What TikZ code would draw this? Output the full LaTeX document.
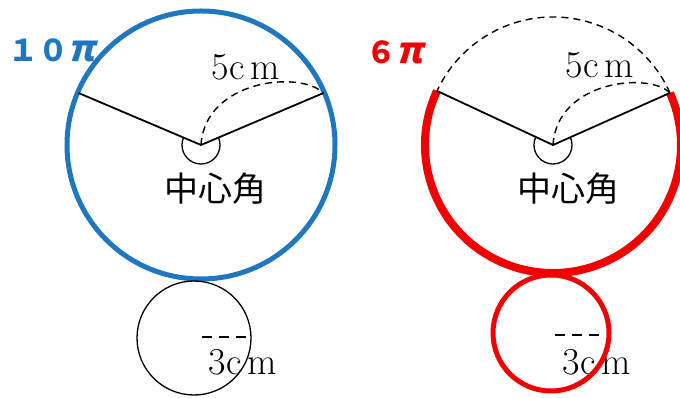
\documentclass[tikz,border=0pt]{standalone}
\usepackage{fontspec}
\newfontfamily\cjk{Noto Sans CJK JP}
\newfontfamily\cjksl[FakeSlant=0.22]{Noto Sans CJK JP}
\definecolor{arcblue}{RGB}{31,119,192}
\definecolor{arcred}{RGB}{240,0,0}

\begin{document}
\begin{tikzpicture}[x=1pt,y=1pt,line width=1.8pt,
  dsh/.style={dashed,dash pattern=on 7pt off 5pt,line width=1.4pt},
  lbl/.style={font=\fontsize{38}{44}\selectfont,inner sep=0pt},
  tag/.style={font=\cjk\bfseries\fontsize{30}{34}\selectfont,inner sep=0pt,anchor=west}]
\useasboundingbox (0,0) rectangle (680,398);
\clip (0,0) rectangle (680,398);
% 左图：圆心与半径端点
\coordinate (O1) at (201,253);
\coordinate (A1) at ([shift={(157:133)}]O1);
\coordinate (B1) at ([shift={(23:133)}]O1);
% 蓝色圆（周长 10π）
\draw[arcblue,line width=5pt] (O1) circle[radius=134];
% 两条半径
\draw (A1) -- (O1) -- (B1);
% 半径的虚线弧
\draw[dsh] (O1) .. controls (205,318) and (300,328) .. (B1);
% 中心角记号
\draw[line width=1.3pt] ([shift={(157:19)}]O1) arc[start angle=157,end angle=383,radius=19];
% 标注
\node[tag,text=arcblue] (t1) at (8,348) {１０\cjksl\bfseries\fontsize{36}{40}\selectfont π};
\node[lbl] (r1) at (246,331) {5c\,m};
\node[lbl,font=\cjk\fontsize{34}{40}\selectfont] (c1) at (215,209) {中心角};
% 下方小圆（半径 3cm）
\coordinate (P1) at (194,60);
\draw[line width=1.3pt] (P1) circle[radius=57];
\draw[dsh,dash pattern=on 10pt off 7pt] (202,61) -- (251,61);
\node[lbl] (s1) at (243,36) {3c\,m};

% 右图：圆心与半径端点
\coordinate (O2) at (553,253);
\coordinate (A2) at ([shift={(155:128)}]O2);
\coordinate (B2) at ([shift={(24:128)}]O2);
% 虚线弧（被剪去的部分）
\draw[dsh] (B2) arc[start angle=24,end angle=155,radius=128];
% 红色粗弧（弧长 6π）
\draw[arcred,line width=8pt] (A2) arc[start angle=155,end angle=384,radius=128];
% 两条半径
\draw (A2) -- (O2) -- (B2);
% 半径的虚线弧
\draw[dsh] (O2) .. controls (557,318) and (650,326) .. (B2);
% 中心角记号
\draw[line width=1.3pt] ([shift={(155:19)}]O2) arc[start angle=155,end angle=384,radius=19];
% 标注
\node[tag,text=arcred] (t2) at (366,346) {６\cjksl\bfseries\fontsize{36}{40}\selectfont π};
\node[lbl] (r2) at (600,333) {5c\,m};
\node[lbl,font=\cjk\fontsize{34}{40}\selectfont] (c2) at (568,209) {中心角};
% 下方小圆（红色）
\coordinate (P2) at (551,65);
\draw[dsh,dash pattern=on 10pt off 7pt] (555,63) -- (603,63);
\node[lbl] (s2) at (597,36) {3c\,m};
\draw[arcred,line width=5pt] (P2) circle[radius=58];
\end{tikzpicture}
\end{document}
